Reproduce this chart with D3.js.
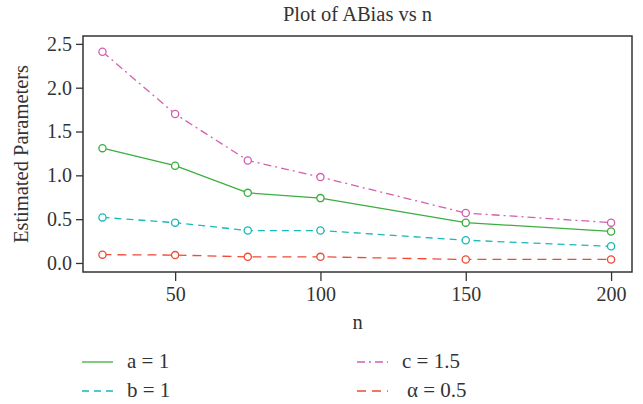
<!DOCTYPE html>
<html><head><meta charset="utf-8">
<script src="https://cdn.jsdelivr.net/npm/d3@7"></script>
<style>body{margin:0;background:#fff}svg{display:block}text{font-family:"Liberation Serif","Times New Roman",serif;fill:#333}</style>
</head><body>
<svg id="c" width="643" height="404"></svg>
<script>
const nValues = [25, 50, 75, 100, 150, 200];
const seriesNames = ["a = 1", "b = 1", "c = 1.5", "\u03b1 = 0.5"];
const aValues = [1.31, 1.11, 0.80, 0.74, 0.46, 0.36];
const bValues = [0.52, 0.46, 0.37, 0.37, 0.26, 0.19];
const cValues = [2.41, 1.70, 1.17, 0.98, 0.57, 0.46];
const alphaValues = [0.095, 0.09, 0.07, 0.07, 0.04, 0.04];
const xTicks = [50, 100, 150, 200];
const yTicks = [0, 0.5, 1.0, 1.5, 2.0, 2.5];

const series = [
  {name: seriesNames[0], values: aValues, color: "#3bae3f", dash: null},
  {name: seriesNames[1], values: bValues, color: "#1ab8b8", dash: "7,5"},
  {name: seriesNames[2], values: cValues, color: "#d45fae", dash: "8,4,2,4"},
  {name: seriesNames[3], values: alphaValues, color: "#ee4a36", dash: "9,6"}
];

const svg = d3.select("#c");
const L = 83, R = 632, T = 36, B = 272;
const x = d3.scaleLinear().domain([18.3, 207.2]).range([L, R]);
const y = d3.scaleLinear().domain([-0.103, 2.59]).range([B, T]);

// box
svg.append("rect").attr("x", L).attr("y", T).attr("width", R - L).attr("height", B - T)
  .attr("fill", "none").attr("stroke", "#333").attr("stroke-width", 1.5);

// axes
const xAxis = svg.append("g").attr("transform", `translate(0,${B})`)
  .call(d3.axisBottom(x).tickValues(xTicks).tickSize(9).tickPadding(6).tickFormat(d3.format("d")));
const yAxis = svg.append("g").attr("transform", `translate(${L},0)`)
  .call(d3.axisLeft(y).tickValues(yTicks).tickSize(7).tickPadding(4).tickFormat(d3.format(".1f")));
[xAxis, yAxis].forEach(g => {
  g.select(".domain").remove();
  g.selectAll(".tick line").attr("stroke", "#333").attr("stroke-width", 1.3);
  g.selectAll(".tick text").style("font-family", '"Liberation Serif",serif').style("font-size", "20px").attr("fill", "#333");
});

// lines
const line = d3.line().x((d, i) => x(nValues[i])).y(d => y(d));
series.forEach(s => {
  svg.append("path").datum(s.values).attr("d", line).attr("fill", "none")
    .attr("stroke", s.color).attr("stroke-width", 1.3)
    .attr("stroke-dasharray", s.dash);
  svg.selectAll(null).data(s.values).enter().append("circle")
    .attr("cx", (d, i) => x(nValues[i])).attr("cy", d => y(d)).attr("r", 3.6)
    .attr("fill", "#fff").attr("stroke", s.color).attr("stroke-width", 1.3);
});

// titles
svg.append("text").attr("x", (L + R) / 2).attr("y", 21).attr("text-anchor", "middle")
  .style("font-size", "20.5px").text("Plot of ABias vs n");
svg.append("text").attr("x", (L + R) / 2).attr("y", 329).attr("text-anchor", "middle")
  .style("font-size", "20.5px").text("n");
svg.append("text").attr("transform", `translate(28,${(T + B) / 2}) rotate(-90)`)
  .attr("text-anchor", "middle").style("font-size", "20.5px").text("Estimated Parameters");

// legend
const legendPos = [
  {lx: 82, ty: 362, tx: 127},
  {lx: 82, ty: 391, tx: 127},
  {lx: 357, ty: 362, tx: 402},
  {lx: 357, ty: 391, tx: 407}
];
series.forEach((s, i) => {
  const p = legendPos[i];
  svg.append("line").attr("x1", p.lx).attr("x2", p.lx + 31).attr("y1", p.ty).attr("y2", p.ty)
    .attr("stroke", s.color).attr("stroke-width", 1.3).attr("stroke-dasharray", s.dash);
  svg.append("text").attr("x", p.tx).attr("y", p.ty + 6).style("font-size", "21px").text(s.name);
});
</script>
</body></html>
